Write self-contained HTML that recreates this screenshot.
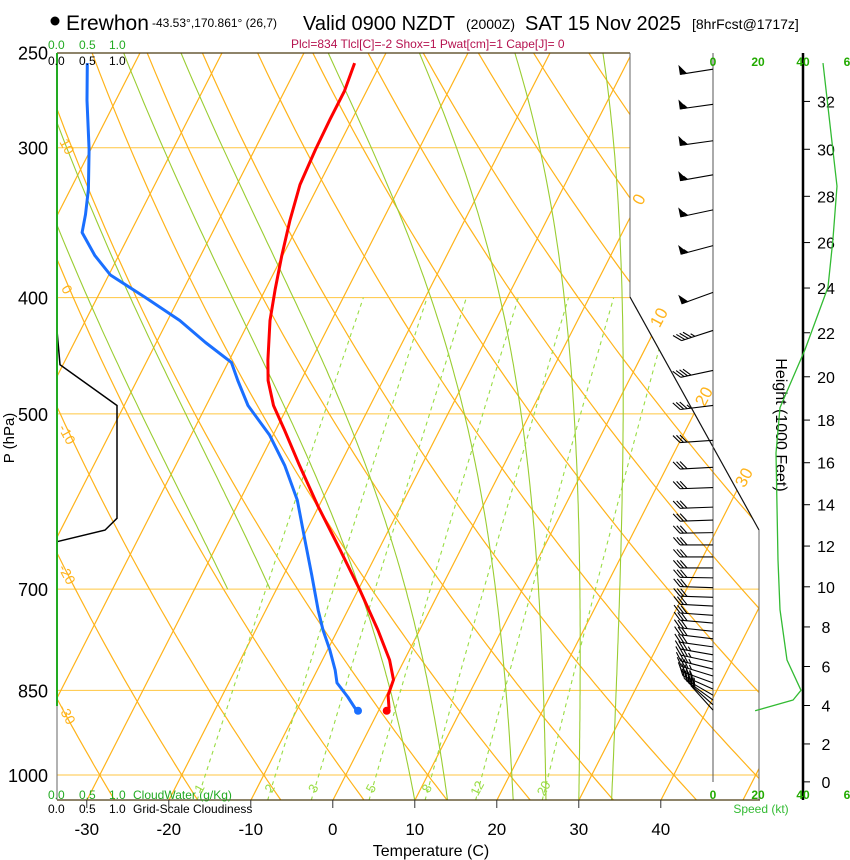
<!DOCTYPE html>
<html><head><meta charset="utf-8"><style>
html,body{margin:0;padding:0;background:#fff;}
svg{display:block;font-family:"Liberation Sans",sans-serif;}
</style></head><body>
<svg id="chart" width="850" height="860" viewBox="0 0 850 860" xmlns="http://www.w3.org/2000/svg">
<defs><clipPath id="plotclip"><polygon points="57,53 630,53 630,297 759,530 759,800 57,800"/></clipPath></defs>
<g>
<circle cx="55" cy="21" r="4.5" fill="#000"/>
<text x="66" y="30" font-size="21">Erewhon</text>
<text x="152" y="27" font-size="12">-43.53°,170.861° (26,7)</text>
<text x="303" y="30" font-size="20">Valid 0900 NZDT</text>
<text x="466" y="29" font-size="14">(2000Z)</text>
<text x="525" y="30" font-size="20">SAT 15 Nov 2025</text>
<text x="692" y="29" font-size="14">[8hrFcst@1717z]</text>
<text x="291" y="48" font-size="12" fill="#b5124f">Plcl=834 Tlcl[C]=-2 Shox=1 Pwat[cm]=1 Cape[J]= 0</text>
</g>
<g id="grid" clip-path="url(#plotclip)"></g>
<g id="profiles"></g>
<g id="frame">
<line x1="57" y1="53" x2="630" y2="53" stroke="#4a3a10" stroke-width="1.2"/>
<line x1="630" y1="53" x2="630" y2="297" stroke="#666" stroke-width="1"/>
<line x1="630" y1="297" x2="759" y2="530" stroke="#111" stroke-width="1.2"/>
<line x1="759" y1="530" x2="759" y2="800" stroke="#666" stroke-width="1"/>
<line x1="57" y1="800" x2="760" y2="800" stroke="#4a3a10" stroke-width="1.2"/>
<line x1="57" y1="53" x2="57" y2="800" stroke="#666" stroke-width="1"/>
<line x1="57" y1="53" x2="57" y2="706" stroke="#22aa22" stroke-width="2"/>
<line x1="713" y1="53" x2="713" y2="782" stroke="#555" stroke-width="1"/>
<line x1="803" y1="53" x2="803" y2="800" stroke="#000" stroke-width="2.5"/>
</g>
<g id="axes">
<text x="10" y="438" font-size="15" transform="rotate(-90 10 438)" text-anchor="middle" dominant-baseline="middle">P (hPa)</text>
<text x="431" y="856" font-size="16" text-anchor="middle">Temperature (C)</text>
<text x="780" y="425" font-size="16" transform="rotate(90 780 425)" text-anchor="middle" dominant-baseline="middle">Height (1000 Feet)</text>
<g font-size="12" fill="#22aa22"><text x="48" y="49">0.0</text><text x="79" y="49">0.5</text><text x="109" y="49">1.0</text></g>
<g font-size="12" fill="#000"><text x="48" y="65">0.0</text><text x="79" y="65">0.5</text><text x="109" y="65">1.0</text></g>
<g font-size="12" fill="#22aa22"><text x="48" y="799">0.0</text><text x="79" y="799">0.5</text><text x="109" y="799">1.0</text><text x="133" y="799">CloudWater (g/Kg)</text></g>
<g font-size="12" fill="#000"><text x="48" y="813">0.0</text><text x="79" y="813">0.5</text><text x="109" y="813">1.0</text><text x="133" y="813">Grid-Scale Cloudiness</text></g>
<g font-size="12" font-weight="bold" fill="#22aa00" text-anchor="middle"><text x="713" y="66">0</text><text x="758" y="66">20</text><text x="803" y="66">40</text><text x="847" y="66">6</text></g>
<g font-size="12" font-weight="bold" fill="#22aa00" text-anchor="middle"><text x="713" y="799">0</text><text x="758" y="799">20</text><text x="803" y="799">40</text><text x="847" y="799">6</text></g>
<text x="761" y="813" font-size="12" fill="#33bb33" text-anchor="middle">Speed (kt)</text>
</g>
<g id="right"></g>
</svg>
<script>
// ---- data ----
const pLevels=[250,300,400,500,700,850,1000];
const tempTicks=[-30,-20,-10,0,10,20,30,40];
const tempP=[255,269,284,301,322,345,369,394,418,451,469,492,516,552,596,649,701,757,802,833,858,879,884];
const tempT=[-43.2,-42.7,-42.7,-42.6,-42.3,-41.3,-40.1,-38.8,-37.5,-35.3,-34.0,-31.8,-28.9,-24.9,-20.2,-14.7,-9.8,-5.1,-1.8,-0.1,0.2,1.1,1.0];
const dewP=[255,274,301,325,341,353,369,383,400,418,436,453,469,492,521,552,590,637,681,729,757,787,818,838,861,881,884];
const dewT=[-75.8,-73.5,-70.2,-67.8,-66.6,-65.9,-62.9,-59.8,-54.1,-48.5,-44.0,-39.6,-37.7,-34.9,-30.4,-26.7,-23.0,-19.6,-16.6,-13.6,-11.8,-9.7,-7.8,-6.8,-4.6,-2.9,-2.5];
const cldP=[426,455,492,611,625,639];
const cldV=[0,0.05,1,1,0.8,0];
const spdP=[884,866,850,802,728,662,539,494,442,392,358,323,255];
const spdV=[18.7,35.6,39.1,32.9,29.8,28.9,28.0,29.8,40.9,51.1,53.3,55.1,48.9];
const heightTicks=[0,2,4,6,8,10,12,14,16,18,20,22,24,26,28,30,32];
const barbP=[258,276,296,316,338,362,396,426,460,492,526,554,576,598,613,628,643,658,672,685,698,711,723,736,747,759,770,782,794,805,816,827,838,848,858,866,874,883];
const barbSpd=[52,53,54,55,55,53,50,44,38,33,30,29,28,28,28,28,28,28,28,29,29,29,30,30,30,30,31,32,33,34,35,36,37,38,38,35,30,22];
const barbDir=[261,262,262,260,258,255,250,252,258,263,266,267,268,268,268,269,270,270,270,271,272,272,273,274,275,276,277,278,280,282,284,287,290,294,300,306,312,318];
const isoT=[-110,-100,-90,-80,-70,-60,-50,-40,-30,-20,-10,0,10,20,30,40,50];
const thetaC=[-40,-30,-20,-10,0,10,20,30,40,50,60,70,80,90,100,110,120,130,140,150,160,170];
const moistStart=[-2,2,10,14,22,26,30,34];
const mixW=[1,2,3,5,8,12,20];

// ---- axis functions ----
const NS="http://www.w3.org/2000/svg";
function yP(p){return 775-521*Math.log(1000/p);}
function xTP(t,p){return 333+8.2*t+0.51*(800-yP(p));}
function mk(tag,attrs,parent){const e=document.createElementNS(NS,tag);for(const k in attrs)e.setAttribute(k,attrs[k]);parent.appendChild(e);return e;}
function pts(arr){return arr.map(a=>a[0].toFixed(1)+","+a[1].toFixed(1)).join(" ");}
const grid=document.getElementById("grid"),prof=document.getElementById("profiles"),axes=document.getElementById("axes"),right=document.getElementById("right");
const ORANGE="#ffb31a";

// pressure lines
pLevels.forEach(p=>{if(p!==250){const l=mk("line",{x1:57,x2:760,y1:yP(p),y2:yP(p),stroke:"#ffc640","stroke-width":1},grid);

}
const t=mk("text",{x:48,y:yP(p)+7,"font-size":18,"text-anchor":"end"},axes);t.textContent=p;

});
// isotherms
isoT.forEach(T=>{const l=mk("line",{x1:xTP(T,1050),y1:yP(1050),x2:xTP(T,250),y2:yP(250),stroke:ORANGE,"stroke-width":1.2},grid);

});
// dry adiabats
thetaC.forEach(th=>{const a=[];for(let p=1050;p>=250;p-=10){const T=(th+273.15)*Math.pow(p/1000,0.2857)-273.15;a.push([xTP(T,p),yP(p)]);}
const l=mk("polyline",{points:pts(a),fill:"none",stroke:ORANGE,"stroke-width":1.2},grid);

});
// moist adiabats
function es(T){return 6.112*Math.exp(17.67*T/(T+243.5));}
moistStart.forEach(t0=>{let T=t0+273.15,p=1050;const a=[];const Rd=287,cp=1004,Lv=2.5e6,eps=0.622;
while(p>=250){const Tc=T-273.15;if(t0>5||p<=700)a.push([xTP(Tc,p),yP(p)]);const e=es(Tc),rs=eps*e/(p-e);
const dTdlnp=(Rd*T+Lv*rs)/(cp+Lv*Lv*rs*eps/(Rd*T*T));const dp=-5;T+=dTdlnp*Math.log((p+dp)/p);p+=dp;}
const l=mk("polyline",{points:pts(a),fill:"none",stroke:"#9acd32","stroke-width":1.1},grid);

});
// mixing ratio lines
function tdFromW(w,p){const e=w*p/(622+w);const g=Math.log(e/6.112);return 243.5*g/(17.67-g);}
mixW.forEach(w=>{const a=[];for(let p=1050;p>=400;p-=10){a.push([xTP(tdFromW(w,p),p),yP(p)]);}
const l=mk("polyline",{points:pts(a),fill:"none",stroke:"#99dd44","stroke-width":1.1,"stroke-dasharray":"4,4"},grid);


const lx=xTP(tdFromW(w,1030),1030)+3,ly=yP(1030);
const t=mk("text",{x:lx,y:ly,"font-size":13,fill:"#99dd44","text-anchor":"middle",transform:"rotate(-62 "+lx+" "+ly+")"},axes);t.textContent=w;

});
// isotherm labels & theta labels
[[0,640,200],[10,660,318],[20,705,397],[30,745,478]].forEach(d=>{const t=mk("text",{x:d[1],y:d[2],"font-size":17,fill:ORANGE,"text-anchor":"middle","dominant-baseline":"middle",transform:"rotate(-62 "+d[1]+" "+d[2]+")"},axes);t.textContent=d[0];

});
[[10,66,147],[0,66,290],[-10,66,435],[-20,66,575],[-30,66,715]].forEach(d=>{const t=mk("text",{x:d[1],y:d[2],"font-size":14,fill:ORANGE,"text-anchor":"middle","dominant-baseline":"middle",transform:"rotate(62 "+d[1]+" "+d[2]+")"},axes);t.textContent=d[0];

});
// temperature ticks
tempTicks.forEach(T=>{const x=xTP(T,1050);const l=mk("line",{x1:x,x2:x,y1:800,y2:808,stroke:"#333","stroke-width":1},axes);


const t=mk("text",{x:x,y:835,"font-size":17,"text-anchor":"middle"},axes);t.textContent=T;

});
// cloudiness
const cl=mk("polyline",{points:pts(cldP.map((p,i)=>[57+60*cldV[i],yP(p)])),fill:"none",stroke:"#000","stroke-width":1.5},prof);


// temperature / dewpoint
const tl=mk("polyline",{points:pts(tempP.map((p,i)=>[xTP(tempT[i],p),yP(p)])),fill:"none",stroke:"#ff0000","stroke-width":3,"stroke-linejoin":"round"},prof);


const dl=mk("polyline",{points:pts(dewP.map((p,i)=>[xTP(dewT[i],p),yP(p)])),fill:"none",stroke:"#1a6fff","stroke-width":3,"stroke-linejoin":"round"},prof);


const tn=tempP.length-1,dn=dewP.length-1;
const td=mk("circle",{cx:xTP(tempT[tn],tempP[tn]),cy:yP(tempP[tn]),r:4,fill:"#ff0000"},prof);


const dd=mk("circle",{cx:xTP(dewT[dn],dewP[dn]),cy:yP(dewP[dn]),r:4,fill:"#1a6fff"},prof);


// height axis
function pFromKft(h){const m=h*304.8;return 1013.25*Math.pow(1-2.25577e-5*m,5.25588);}
heightTicks.forEach(h=>{const y=yP(pFromKft(h));const l=mk("line",{x1:803,x2:810,y1:y,y2:y,stroke:"#000","stroke-width":1},right);


const t=mk("text",{x:826,y:y+6,"font-size":16,"text-anchor":"middle"},right);t.textContent=h;

});
// speed profile
const sl=mk("polyline",{points:pts(spdP.map((p,i)=>[713+2.25*spdV[i],yP(p)])),fill:"none",stroke:"#33bb33","stroke-width":1.3,"stroke-linejoin":"round"},right);


// barbs
barbP.forEach((p,i)=>{const y=yP(p),d=barbDir[i]*Math.PI/180,L=33;const ux=Math.sin(d),uy=-Math.cos(d);const tx=713+L*ux,ty=y+L*uy;
const g=mk("g",{stroke:"#000","stroke-width":1.1,fill:"#000"},right);


mk("line",{x1:713,y1:y,x2:tx,y2:ty},g);
const nx=-uy,ny=ux;
let s=Math.round(barbSpd[i]/5)*5,pos=0;
while(s>=50){const ax=tx-ux*pos,ay=ty-uy*pos;mk("polygon",{points:pts([[ax,ay],[ax+nx*8,ay+ny*8],[ax-ux*6,ay-uy*6]])},g);pos+=7;s-=50;}
while(s>=10){const ax=tx-ux*pos,ay=ty-uy*pos;mk("line",{x1:ax,y1:ay,x2:ax+10*(0.75*nx+0.66*ux),y2:ay+10*(0.75*ny+0.66*uy)},g);pos+=3.5;s-=10;}
if(s>=5){const ax=tx-ux*pos,ay=ty-uy*pos;mk("line",{x1:ax,y1:ay,x2:ax+5*(0.75*nx+0.66*ux),y2:ay+5*(0.75*ny+0.66*uy)},g);}
});
</script>
</body></html>
